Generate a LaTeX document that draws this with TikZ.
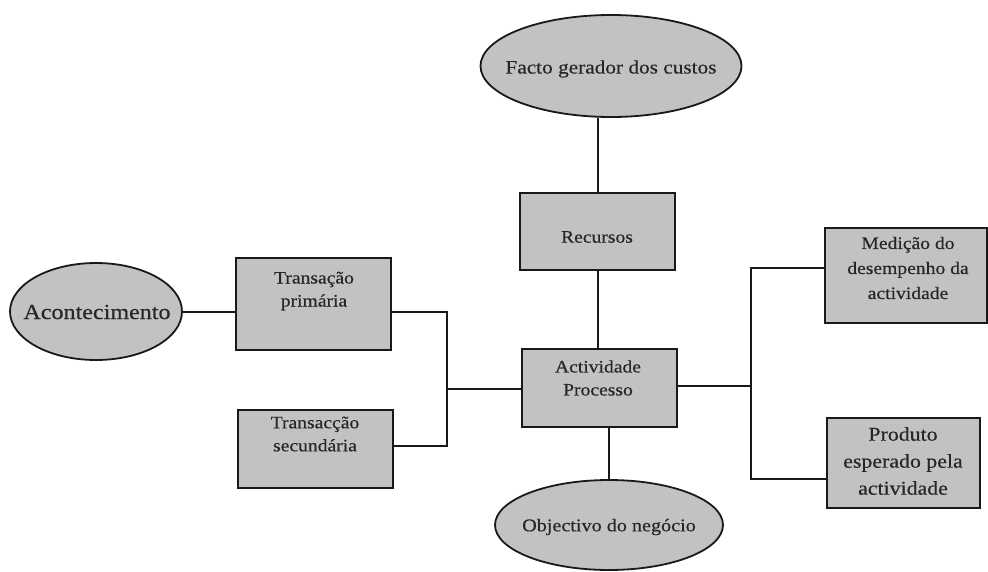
\documentclass[tikz,border=0pt]{standalone}
\usepackage{fontspec}
\setmainfont{Liberation Serif}[FakeStretch=1.12,FakeBold=0.4]
\usetikzlibrary{shapes.geometric}
\begin{document}
\begin{tikzpicture}[x=1pt,y=-1pt,
  shade fill/.style={fill=black!24},
  stepbox/.style={draw=black!90,line width=2.4pt,shade fill,rectangle,inner sep=0pt},
  oval/.style={draw=black!90,line width=1.8pt,shade fill,ellipse,inner sep=0pt},
  txt/.style={align=center,text=black!85,inner sep=0pt,font=\fontsize{17.5}{23}\selectfont},
  link/.style={draw=black!90,line width=2pt}]
\useasboundingbox (0,0) rectangle (988,572);

% ovals
\node[oval,minimum width=261pt,minimum height=102pt] (facto) at (611,66) {};
\node[txt,font=\fontsize{19}{23}\selectfont] (factoT) at (611,69) {Facto gerador dos custos};
\node[oval,minimum width=172pt,minimum height=97pt] (acont) at (96,311.5) {};
\node[txt,font=\fontsize{21.5}{24}\selectfont] (acontT) at (97,312) {Acontecimento};
\node[oval,minimum width=228pt,minimum height=90pt] (obj) at (609,525) {};
\node[txt,font=\fontsize{18}{23}\selectfont] (objT) at (609,527) {Objectivo do negócio};

% boxes
\node[stepbox,minimum width=155pt,minimum height=77pt] (rec) at (597.5,231.5) {};
\node[txt] (recT) at (597,237) {Recursos};
\node[stepbox,minimum width=155pt,minimum height=78pt] (act) at (599.5,388) {};
\node[txt] (actT) at (598,378) {Actividade\\Processo};
\node[stepbox,minimum width=155pt,minimum height=92pt] (tp) at (313.5,304) {};
\node[txt] (tpT) at (314,291) {Transação\\primária};
\node[stepbox,minimum width=155pt,minimum height=78pt] (ts) at (315.5,449) {};
\node[txt] (tsT) at (315,434) {Transacção\\secundária};
\node[stepbox,minimum width=162pt,minimum height=95pt] (med) at (906,275.5) {};
\node[txt,font=\fontsize{17.5}{25}\selectfont] (medT) at (908,268) {Medição do\\desempenho da\\actividade};
\node[stepbox,minimum width=153pt,minimum height=90pt] (prod) at (903.5,463) {};
\node[txt,font=\fontsize{19.5}{27}\selectfont] (prodT) at (903,461) {Produto\\esperado pela\\actividade};

% junction points
\coordinate (jl) at (447,389);
\coordinate (jr) at (751,386);

% connectors
\draw[link] (facto.south -| rec.north) -- (rec.north);
\draw[link] (rec.south) -- (act.north -| rec.south);
\draw[link] (act.south -| obj.north) -- (obj.north);
\draw[link] (acont.east) -- (acont.east -| tp.west);
\draw[link] (tp.east |- 0,312) -| (jl) |- (ts.east |- 0,446);
\draw[link] (jl) -- (act.west |- jl);
\draw[link] (act.east |- jr) -- (jr);
\draw[link] (med.west |- 0,268) -| (jr) |- (prod.west |- 0,479);
\end{tikzpicture}
\end{document}
